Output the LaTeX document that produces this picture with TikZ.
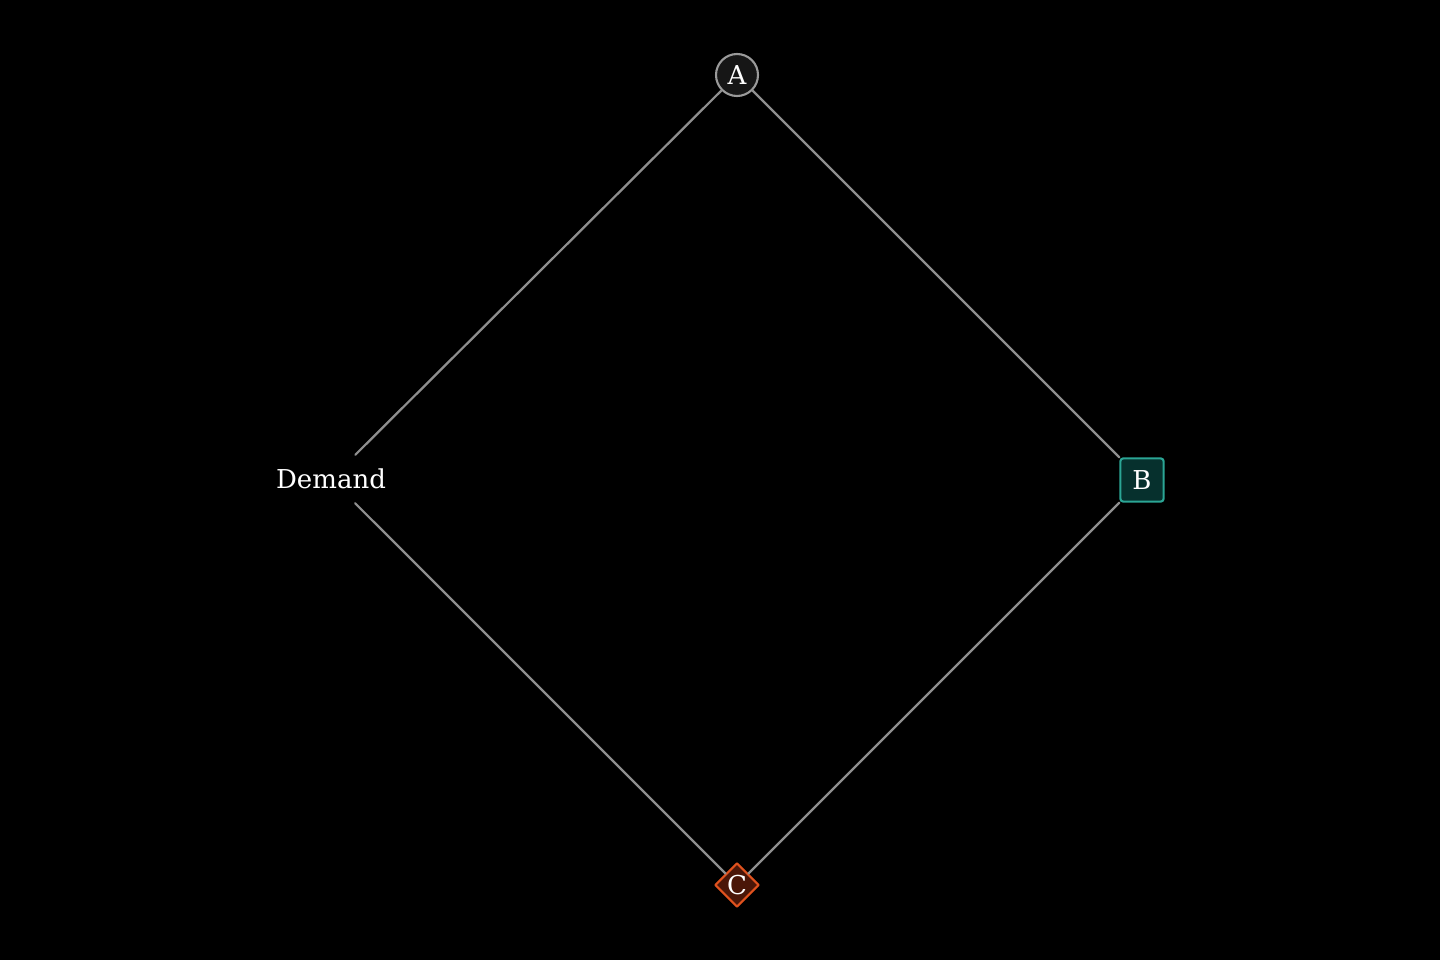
\documentclass[tikz,border=0pt]{standalone}
\usepackage{fontspec}
\setmainfont{DejaVu Serif}
\usetikzlibrary{shapes.geometric}
\definecolor{linkgray}{HTML}{8E8E8E}
\definecolor{ringgray}{HTML}{9A9A9A}
\definecolor{darkfill}{HTML}{161616}
\definecolor{tealline}{HTML}{2BA595}
\definecolor{tealfill}{HTML}{06302D}
\definecolor{rustline}{HTML}{E0521E}
\definecolor{rustfill}{HTML}{4A1608}
\begin{document}
\begin{tikzpicture}[line join = round, line cap = round,font=\fontsize{18.5}{22}\selectfont,
	vtx/.style={circle,draw=ringgray,fill=darkfill,line width=1.5pt,minimum size=1.05cm,inner sep=0pt,text=white},
	sq/.style={rectangle,rounded corners=2pt,draw=tealline,fill=tealfill,line width=1.5pt,minimum size=1.08cm,inner sep=0pt,text=white},
	dia/.style={diamond,draw=rustline,fill=rustfill,line width=1.5pt,minimum size=1.1cm,inner sep=0pt,text=white},
	link/.style={draw=linkgray,line width=1.6pt}]
	\def\w{36} \def\h{24}
	\fill[black] (0,0) rectangle (\w,-\h);
	\useasboundingbox (0,0) rectangle (\w,-\h);
	\node[vtx] (A) at (18.425,-1.875) {A};
	\node[sq] (B) at (28.55,-12) {B};
	\node[dia] (C) at (18.425,-22.125) {C};
	\node[text=white,minimum height=1.2cm,inner xsep=2pt] (D) at (8.275,-11.975) {Demand};
	\draw[link] (A)--(B) (B)--(C) (C)--(D) (D)--(A);
\end{tikzpicture}
\end{document}
